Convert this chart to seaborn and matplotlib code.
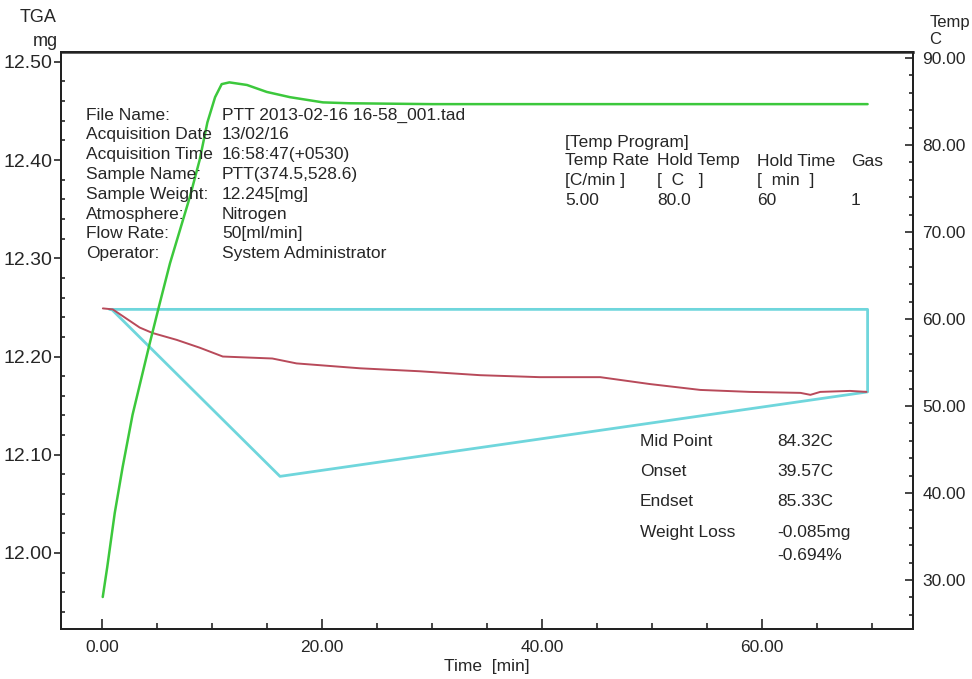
import numpy as np
import pandas as pd
import matplotlib
matplotlib.use("Agg")
import matplotlib.pyplot as plt
from matplotlib.ticker import MultipleLocator, FormatStrFormatter
import seaborn as sns

# weight curve (TGA, mg)
tga_time = [0.1, 1.0, 3.45, 4.6, 6.8, 8.9, 11.0, 15.5, 17.7, 23.5, 28.9, 34.4,
            39.8, 45.3, 49.8, 54.4, 58.9, 63.5, 64.4, 65.3, 68.0, 69.5]
tga_mg = [12.249, 12.248, 12.2295, 12.224, 12.217, 12.209, 12.200, 12.198, 12.193,
          12.188, 12.185, 12.181, 12.179, 12.179, 12.172, 12.166, 12.164, 12.163,
          12.161, 12.164, 12.165, 12.164]

# sample temperature (C, right axis)
temp_time = [0.09, 0.5, 1.18, 1.9, 2.8, 4.36, 5.27, 6.2, 7.1, 8.0, 8.9, 9.6, 10.3,
             10.9, 11.6, 13.2, 15.0, 17.1, 20.1, 22.5, 30.0, 40.0, 50.0, 60.0, 69.6]
temp_c = [28.05, 31.5, 37.7, 43.0, 49.0, 57.2, 61.8, 66.4, 70.2, 74.0, 78.3, 82.6, 85.5,
          87.0, 87.2, 86.9, 86.1, 85.5, 84.9, 84.8, 84.7, 84.7, 84.7, 84.7, 84.7]

# weight-loss analysis frame (cyan)
frame_time = [0.7, 69.6, 69.6, 16.2, 0.9]
frame_mg = [12.248, 12.248, 12.164, 12.078, 12.248]

info_labels = ["File Name:", "Acquisition Date", "Acquisition Time", "Sample Name:",
               "Sample Weight:", "Atmosphere:", "Flow Rate:", "Operator:"]
info_values = ["PTT 2013-02-16 16-58_001.tad", "13/02/16", "16:58:47(+0530)",
               "PTT(374.5,528.6)", "12.245[mg]", "Nitrogen", "50[ml/min]",
               "System Administrator"]

prog_rows = [["Temp Rate", "Hold Temp", "Hold Time", "Gas"],
             ["[C/min ]", "[  C   ]", "[  min  ]", ""],
             ["5.00", "80.0", "60", "1"]]

result_labels = ["Mid Point", "Onset", "Endset", "Weight Loss", ""]
result_values = ["84.32C", "39.57C", "85.33C", "-0.085mg", "-0.694%"]

sns.set_theme(style="white")
plt.rcParams["font.family"] = ["Liberation Sans", "DejaVu Sans"]

fig = plt.figure(figsize=(9.72, 6.79), dpi=100)
ax = fig.add_axes([0.0628, 0.0736, 0.8762, 0.8498])
ax2 = ax.twinx()

tga_df = pd.DataFrame({"time": tga_time, "mg": tga_mg})
temp_df = pd.DataFrame({"time": temp_time, "temp": temp_c})
frame_df = pd.DataFrame({"time": frame_time, "mg": frame_mg})

ax.plot(frame_df["time"], frame_df["mg"], color="#6fd6dc", lw=2.0, zorder=2)
sns.lineplot(data=tga_df, x="time", y="mg", ax=ax, color="#b84a5a", lw=1.4,
             sort=False, estimator=None, zorder=3)
sns.lineplot(data=temp_df, x="time", y="temp", ax=ax2, color="#3cc83c", lw=1.8,
             sort=False, estimator=None)

ax.set_xlim(-3.7, 73.7)
ax.set_ylim(11.9226, 12.510)
ax2.set_ylim(24.37, 90.69)

ax.xaxis.set_major_locator(MultipleLocator(20))
ax.xaxis.set_minor_locator(MultipleLocator(5))
ax.yaxis.set_major_locator(MultipleLocator(0.1))
ax.yaxis.set_minor_locator(MultipleLocator(0.02))
ax2.yaxis.set_major_locator(MultipleLocator(10))
ax2.yaxis.set_minor_locator(MultipleLocator(2))
ax.xaxis.set_major_formatter(FormatStrFormatter("%.2f"))
ax.yaxis.set_major_formatter(FormatStrFormatter("%.2f"))
ax2.yaxis.set_major_formatter(FormatStrFormatter("%.2f"))

ax.set_xlabel("Time  [min]", fontsize=12.5, labelpad=3)
ax.set_ylabel("")
ax2.set_ylabel("")

ax.tick_params(axis="y", which="major", direction="out", length=5, width=1.2,
               labelsize=14, pad=1, left=True)
ax.tick_params(axis="y", which="minor", direction="in", length=3, width=1.2, left=True)
ax.tick_params(axis="x", which="major", direction="in", length=7, width=1.2,
               labelsize=12.5, pad=8, bottom=True)
ax.tick_params(axis="x", which="minor", direction="in", length=4, width=1.2, bottom=True)
ax2.tick_params(axis="y", which="major", direction="in", length=6, width=1.2,
                labelsize=12.5, pad=7, right=True)
ax2.tick_params(axis="y", which="minor", direction="in", length=3, width=1.2, right=True)

for a in (ax, ax2):
    for side in a.spines.values():
        side.set_color("#222222")
        side.set_linewidth(1.4)
ax.spines["top"].set_color("#555555")
ax.spines["top"].set_linewidth(2.0)

# axis titles
fig.text(38 / 972, 1 - 18 / 679, "TGA", ha="center", va="center", fontsize=13)
fig.text(45 / 972, 1 - 41 / 679, "mg", ha="center", va="center", fontsize=13)
fig.text(950 / 972, 1 - 22 / 679, "Temp", ha="center", va="center", fontsize=12)
fig.text(935 / 972, 1 - 39 / 679, "C", ha="center", va="center", fontsize=12)

# info block
for i, (lab, val) in enumerate(zip(info_labels, info_values)):
    y = 1 - (115 + i * 19.8) / 679
    fig.text(86 / 972, y, lab, ha="left", va="center", fontsize=12.5)
    fig.text(222 / 972, y, val, ha="left", va="center", fontsize=12.5)

# temp program block
fig.text(565 / 972, 1 - 142 / 679, "[Temp Program]", ha="left", va="center", fontsize=12.5)
prog_x = [565, 657, 757, 851]
for r, row in enumerate(prog_rows):
    y = 1 - (161 + r * 19.5) / 679
    for xc, cell in zip(prog_x, row):
        fig.text(xc / 972, y, cell, ha="left", va="center", fontsize=12.5)

# results block
result_y = [442, 472, 502, 532, 556]
for lab, val, yy in zip(result_labels, result_values, result_y):
    fig.text(640 / 972, 1 - yy / 679, lab, ha="left", va="center", fontsize=12.5)
    fig.text(777 / 972, 1 - yy / 679, val, ha="left", va="center", fontsize=12.5)

plt.savefig("out.png", dpi=100)
